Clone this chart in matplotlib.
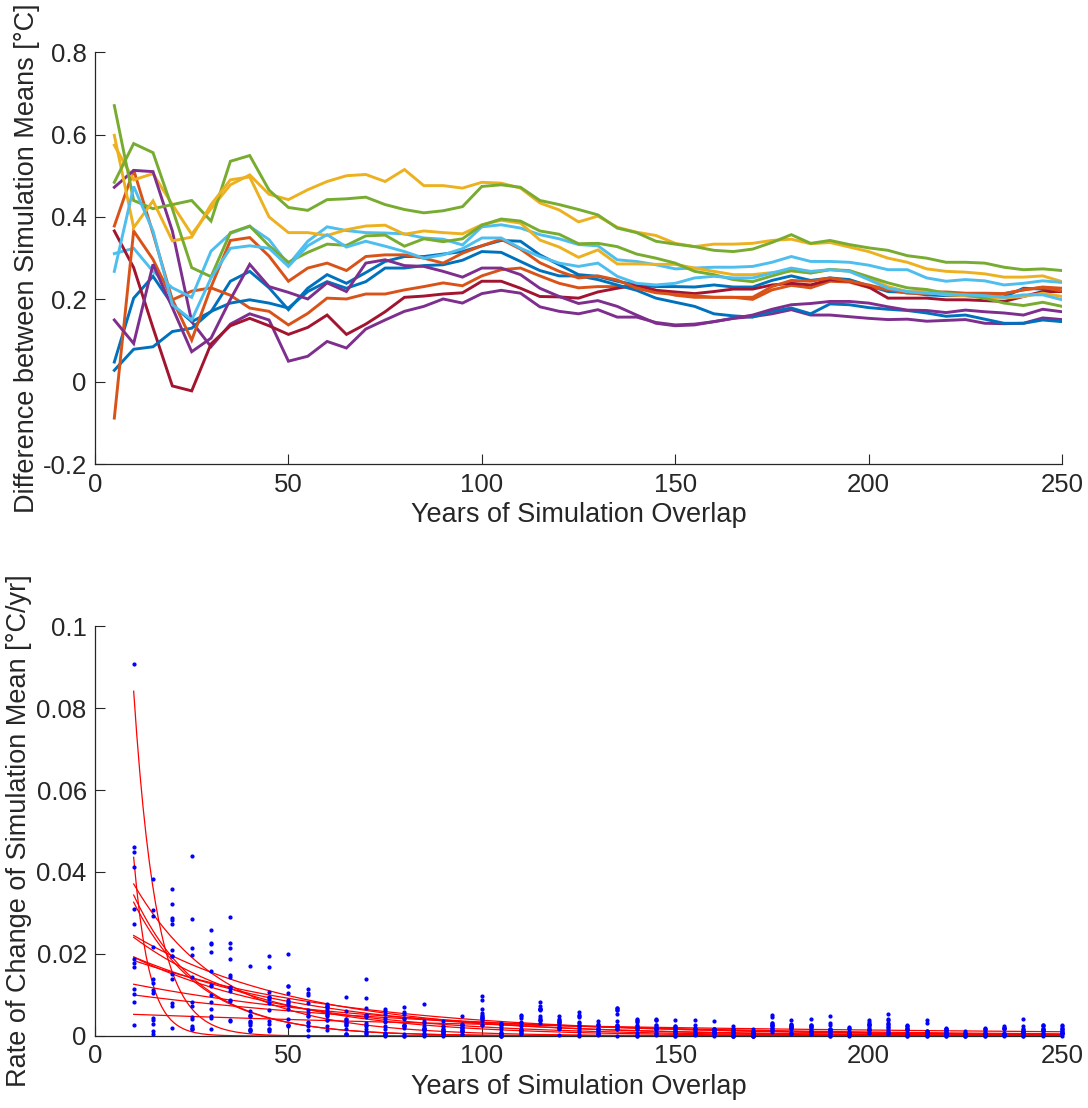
import numpy as np
import matplotlib
matplotlib.use("Agg")
import matplotlib.pyplot as plt
from matplotlib.ticker import FixedLocator, FixedFormatter

plt.rcParams['font.family'] = ['Liberation Sans', 'DejaVu Sans']

# years of overlap (5 yr steps)
years = np.arange(5, 255, 5)

# difference between simulation means, one list per simulation pair (degC)
blue_a = [0.048, 0.203, 0.256, 0.187, 0.146, 0.170, 0.244, 0.268, 0.228, 0.175,
          0.227, 0.260, 0.239, 0.265, 0.292, 0.304, 0.304, 0.310, 0.316, 0.330,
          0.343, 0.341, 0.308, 0.284, 0.260, 0.256, 0.244, 0.235, 0.231, 0.231,
          0.230, 0.235, 0.230, 0.230, 0.246, 0.257, 0.246, 0.252, 0.248, 0.233,
          0.219, 0.217, 0.211, 0.209, 0.209, 0.207, 0.206, 0.227, 0.225, 0.219]
orange_a = [0.378, 0.514, 0.360, 0.199, 0.220, 0.228, 0.210, 0.179, 0.171, 0.138,
            0.166, 0.203, 0.201, 0.213, 0.213, 0.223, 0.231, 0.240, 0.233, 0.257,
            0.272, 0.276, 0.257, 0.239, 0.228, 0.231, 0.231, 0.230, 0.222, 0.210,
            0.205, 0.205, 0.205, 0.200, 0.223, 0.234, 0.228, 0.244, 0.242, 0.229,
            0.224, 0.218, 0.218, 0.218, 0.215, 0.215, 0.214, 0.223, 0.230, 0.227]
yellow_a = [0.574, 0.490, 0.505, 0.430, 0.358, 0.420, 0.478, 0.502, 0.455, 0.442,
            0.466, 0.486, 0.500, 0.503, 0.486, 0.515, 0.476, 0.476, 0.470, 0.484,
            0.482, 0.470, 0.434, 0.417, 0.388, 0.402, 0.375, 0.363, 0.355, 0.336,
            0.328, 0.334, 0.334, 0.336, 0.343, 0.346, 0.335, 0.338, 0.327, 0.316,
            0.300, 0.290, 0.274, 0.268, 0.266, 0.262, 0.254, 0.254, 0.257, 0.243]
purple_a = [0.472, 0.513, 0.510, 0.366, 0.146, 0.085, 0.140, 0.165, 0.150, 0.050,
            0.062, 0.098, 0.082, 0.128, 0.150, 0.171, 0.183, 0.201, 0.191, 0.214,
            0.222, 0.215, 0.182, 0.171, 0.165, 0.175, 0.157, 0.157, 0.144, 0.138,
            0.140, 0.146, 0.154, 0.158, 0.165, 0.175, 0.162, 0.162, 0.158, 0.154,
            0.151, 0.152, 0.147, 0.149, 0.151, 0.142, 0.141, 0.142, 0.155, 0.151]
green_a = [0.670, 0.440, 0.420, 0.430, 0.440, 0.390, 0.535, 0.549, 0.465, 0.423,
           0.416, 0.442, 0.444, 0.448, 0.430, 0.418, 0.410, 0.415, 0.425, 0.474,
           0.478, 0.472, 0.440, 0.430, 0.418, 0.405, 0.373, 0.362, 0.341, 0.334,
           0.328, 0.319, 0.316, 0.322, 0.338, 0.357, 0.336, 0.343, 0.333, 0.325,
           0.319, 0.306, 0.300, 0.290, 0.290, 0.288, 0.278, 0.272, 0.274, 0.270]
ltblue_a = [0.311, 0.324, 0.268, 0.228, 0.205, 0.317, 0.360, 0.377, 0.345, 0.284,
            0.341, 0.376, 0.367, 0.362, 0.361, 0.359, 0.349, 0.346, 0.332, 0.376,
            0.381, 0.373, 0.357, 0.347, 0.333, 0.330, 0.296, 0.292, 0.284, 0.274,
            0.276, 0.278, 0.278, 0.280, 0.290, 0.304, 0.292, 0.292, 0.290, 0.283,
            0.272, 0.272, 0.252, 0.244, 0.248, 0.245, 0.235, 0.239, 0.245, 0.241]
darkred_a = [0.366, 0.277, 0.131, -0.010, -0.022, 0.092, 0.136, 0.154, 0.136, 0.115,
             0.132, 0.162, 0.115, 0.140, 0.170, 0.205, 0.208, 0.213, 0.216, 0.244,
             0.244, 0.227, 0.207, 0.206, 0.203, 0.218, 0.227, 0.235, 0.222, 0.218,
             0.214, 0.219, 0.225, 0.225, 0.235, 0.239, 0.235, 0.248, 0.244, 0.230,
             0.203, 0.203, 0.203, 0.199, 0.199, 0.197, 0.195, 0.207, 0.219, 0.219]
blue_b = [0.028, 0.079, 0.085, 0.122, 0.130, 0.171, 0.191, 0.199, 0.191, 0.179,
          0.219, 0.243, 0.227, 0.243, 0.276, 0.276, 0.282, 0.284, 0.295, 0.316,
          0.314, 0.292, 0.270, 0.257, 0.257, 0.248, 0.235, 0.222, 0.203, 0.193,
          0.183, 0.165, 0.160, 0.157, 0.171, 0.179, 0.165, 0.189, 0.187, 0.180,
          0.176, 0.173, 0.167, 0.159, 0.162, 0.152, 0.142, 0.142, 0.150, 0.146]
orange_b = [-0.088, 0.366, 0.297, 0.200, 0.101, 0.230, 0.343, 0.350, 0.305, 0.244,
            0.276, 0.288, 0.270, 0.304, 0.308, 0.308, 0.300, 0.288, 0.312, 0.330,
            0.346, 0.322, 0.289, 0.268, 0.252, 0.257, 0.247, 0.227, 0.216, 0.212,
            0.209, 0.205, 0.205, 0.205, 0.231, 0.246, 0.244, 0.252, 0.244, 0.235,
            0.224, 0.215, 0.214, 0.214, 0.212, 0.212, 0.214, 0.223, 0.229, 0.220]
yellow_b = [0.598, 0.374, 0.439, 0.342, 0.351, 0.430, 0.490, 0.497, 0.400, 0.362,
            0.362, 0.355, 0.369, 0.378, 0.380, 0.358, 0.366, 0.362, 0.359, 0.381,
            0.392, 0.385, 0.344, 0.327, 0.302, 0.320, 0.286, 0.286, 0.285, 0.285,
            0.276, 0.268, 0.260, 0.260, 0.265, 0.269, 0.264, 0.273, 0.268, 0.251,
            0.231, 0.219, 0.217, 0.211, 0.209, 0.203, 0.203, 0.207, 0.215, 0.207]
purple_b = [0.150, 0.093, 0.285, 0.180, 0.073, 0.106, 0.200, 0.285, 0.231, 0.217,
            0.201, 0.240, 0.219, 0.288, 0.296, 0.282, 0.280, 0.268, 0.254, 0.276,
            0.276, 0.260, 0.227, 0.207, 0.190, 0.197, 0.183, 0.162, 0.142, 0.136,
            0.138, 0.146, 0.154, 0.162, 0.176, 0.187, 0.190, 0.195, 0.195, 0.191,
            0.182, 0.174, 0.173, 0.168, 0.174, 0.170, 0.167, 0.162, 0.176, 0.170]
green_b = [0.484, 0.578, 0.556, 0.420, 0.277, 0.255, 0.362, 0.378, 0.330, 0.290,
           0.314, 0.334, 0.331, 0.354, 0.356, 0.329, 0.347, 0.340, 0.347, 0.380,
           0.395, 0.390, 0.366, 0.358, 0.335, 0.336, 0.328, 0.310, 0.300, 0.288,
           0.268, 0.260, 0.248, 0.243, 0.257, 0.270, 0.264, 0.272, 0.270, 0.255,
           0.240, 0.228, 0.224, 0.215, 0.211, 0.203, 0.191, 0.185, 0.193, 0.183]
ltblue_b = [0.268, 0.474, 0.366, 0.187, 0.150, 0.252, 0.324, 0.330, 0.324, 0.280,
            0.330, 0.357, 0.327, 0.341, 0.329, 0.316, 0.300, 0.308, 0.323, 0.349,
            0.349, 0.324, 0.304, 0.288, 0.280, 0.288, 0.256, 0.239, 0.235, 0.239,
            0.252, 0.256, 0.252, 0.252, 0.264, 0.276, 0.268, 0.272, 0.268, 0.248,
            0.227, 0.219, 0.215, 0.213, 0.211, 0.209, 0.205, 0.211, 0.211, 0.199]

series = [blue_a, orange_a, yellow_a, purple_a, green_a, ltblue_a, darkred_a,
          blue_b, orange_b, yellow_b, purple_b, green_b, ltblue_b]

# matlab default line colours
colors = ['#0072BD', '#D95319', '#EDB120', '#7E2F8E', '#77AC30', '#4DBEEE', '#A2142F']

axcol = '#262626'

fig = plt.figure(figsize=(10.88, 11.08), dpi=100)
ax1 = fig.add_axes([0.0873, 0.581, 0.8889, 0.372])
ax2 = fig.add_axes([0.0873, 0.065, 0.8889, 0.370])

for i, s in enumerate(series):
    ax1.plot(years, s, color=colors[i % 7], lw=2.1, solid_joinstyle='miter')

# rate of change = |change in mean| per year between 5 yr steps, then exp fit
for s in series:
    s = np.array(s)
    rate = np.abs(np.diff(s)) / 5.0
    xr = years[1:]
    ax2.plot(xr, rate, 'b.', ms=4, clip_on=False, zorder=3)
    # least squares fit of a*exp(b*x)
    best = None
    for b in np.linspace(-0.25, 0.02, 2701):
        e = np.exp(b * xr)
        a = np.sum(rate * e) / np.sum(e * e)
        err = np.sum((rate - a * e) ** 2)
        if best is None or err < best[0]:
            best = (err, a, b)
    xf = np.linspace(xr[0], xr[-1], 300)
    ax2.plot(xf, best[1] * np.exp(best[2] * xf), color='red', lw=0.9, zorder=2)

for ax in (ax1, ax2):
    ax.set_xlim(0, 250)
    ax.set_xticks([0, 50, 100, 150, 200, 250])
    ax.spines['top'].set_visible(False)
    ax.spines['right'].set_visible(False)
    for sp in ('left', 'bottom'):
        ax.spines[sp].set_color(axcol)
        ax.spines[sp].set_linewidth(0.9)
    ax.tick_params(direction='in', length=7, width=0.8, colors=axcol,
                   labelsize=18.5, pad=6)
    ax.set_xlabel('Years of Simulation Overlap', fontsize=19.5, color=axcol, labelpad=4)

ax1.set_ylim(-0.2, 0.8)
yt1 = [-0.2, 0, 0.2, 0.4, 0.6, 0.8]
ax1.yaxis.set_major_locator(FixedLocator(yt1))
ax1.yaxis.set_major_formatter(FixedFormatter(['-0.2', '0', '0.2', '0.4', '0.6', '0.8']))
ax1.set_ylabel('Difference between Simulation Means [°C]', fontsize=19.5, color=axcol, labelpad=2)

ax2.set_ylim(0, 0.1)
yt2 = [0, 0.02, 0.04, 0.06, 0.08, 0.1]
ax2.yaxis.set_major_locator(FixedLocator(yt2))
ax2.yaxis.set_major_formatter(FixedFormatter(['0', '0.02', '0.04', '0.06', '0.08', '0.1']))
ax2.set_ylabel('Rate of Change of Simulation Mean [°C/yr]', fontsize=19.5, color=axcol, labelpad=3)

fig.savefig('out.png', dpi=100)
